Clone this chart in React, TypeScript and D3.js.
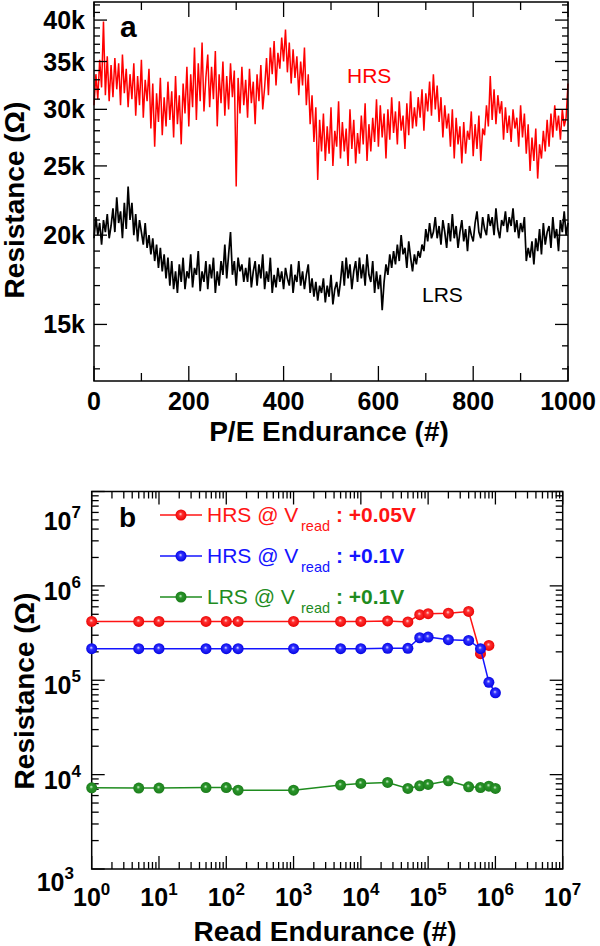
import React from "react";
import * as d3 from "d3";

// ---------- Panel (a): P/E endurance ----------
const peCycles = d3.range(0, 1001, 4);
// HRS resistance in kOhm
const hrsKOhm = [
  30.4, 33.6, 31.0, 35.2, 32.2, 39.8, 31.4, 35.6, 30.8, 34.6,
  31.2, 35.4, 32.0, 34.8, 30.4, 35.8, 31.6, 34.2, 30.2, 33.6,
  31.0, 34.8, 29.4, 33.4, 30.4, 35.2, 29.2, 33.0, 30.8, 34.2,
  28.2, 32.6, 26.6, 31.6, 28.8, 33.2, 27.6, 31.2, 28.4, 32.8,
  29.0, 31.8, 27.4, 33.4, 28.6, 31.4, 26.8, 32.6, 29.6, 34.4,
  28.4, 33.6, 30.2, 36.6, 29.0, 34.8, 30.8, 37.2, 29.8, 33.2,
  35.8, 30.2, 34.4, 31.0, 36.2, 28.4, 33.6, 30.6, 35.0, 29.4,
  33.4, 30.0, 34.8, 31.2, 34.0, 23.4, 33.2, 29.6, 34.4, 30.4,
  33.0, 29.2, 34.2, 30.6, 32.8, 28.6, 33.6, 30.8, 34.6, 30.0,
  32.2, 35.4, 31.4, 36.6, 33.6, 37.4, 32.4, 36.0, 34.2, 37.8,
  35.0, 38.8, 33.8, 37.2, 32.6, 36.4, 33.2, 35.6, 31.4, 35.0,
  32.4, 36.6, 30.4, 33.6, 28.6, 31.4, 27.0, 30.2, 23.9, 29.0,
  26.2, 29.6, 25.4, 28.4, 26.0, 30.2, 25.0, 28.0, 26.6, 30.8,
  25.6, 28.8, 26.2, 28.2, 25.0, 30.0, 26.4, 29.0, 25.2, 27.8,
  26.0, 29.4, 26.8, 30.6, 25.4, 28.6, 26.2, 29.2, 27.0, 31.0,
  26.6, 30.4, 27.4, 29.6, 25.6, 30.0, 27.2, 31.2, 27.8, 29.8,
  26.8, 30.8, 28.0, 29.4, 26.4, 30.6, 27.6, 31.8, 28.2, 30.2,
  28.4, 31.2, 29.2, 32.0, 28.0, 31.6, 29.8, 32.8, 29.4, 33.6,
  30.0, 32.4, 28.8, 31.2, 27.4, 30.4, 28.2, 29.6, 26.6, 30.0,
  25.6, 29.2, 26.8, 28.4, 25.2, 28.8, 26.0, 28.0, 27.2, 29.8,
  25.8, 28.6, 26.4, 29.4, 25.4, 28.2, 27.6, 30.4, 28.4, 33.4,
  29.0, 32.0, 28.6, 31.4, 29.6, 30.8, 27.2, 30.2, 27.8, 29.4,
  27.0, 30.0, 28.2, 29.2, 26.6, 30.4, 27.4, 29.6, 26.0, 28.6,
  24.6, 27.4, 25.4, 28.2, 24.0, 26.8, 25.6, 28.0, 26.2, 29.0,
  26.6, 29.6, 27.4, 30.4, 28.0, 29.4, 27.2, 30.0, 28.4, 29.2,
  32.6,
];
// LRS resistance in kOhm
const lrsKOhm = [
  19.8, 21.2, 20.0, 20.8, 19.4, 21.0, 20.2, 21.4, 19.8, 20.6,
  21.8, 20.2, 22.6, 20.8, 21.6, 19.8, 22.2, 20.4, 23.4, 21.0,
  22.2, 20.0, 21.4, 19.6, 21.0, 20.2, 19.4, 20.8, 19.2, 20.0,
  18.8, 19.8, 18.4, 19.4, 18.0, 19.2, 17.8, 18.8, 17.4, 18.6,
  17.0, 18.4, 16.8, 17.8, 16.6, 18.2, 17.2, 18.6, 16.8, 17.8,
  17.4, 18.8, 16.9, 18.0, 17.6, 19.0, 16.7, 17.8, 17.2, 18.4,
  16.8, 18.2, 17.4, 18.6, 16.6, 17.8, 17.0, 18.4, 17.6, 19.4,
  17.4, 18.8, 20.2, 17.6, 18.4, 17.0, 18.6, 17.8, 18.2, 17.2,
  18.0, 17.2, 18.6, 16.9, 17.8, 18.4, 17.0, 18.2, 17.4, 18.8,
  16.8, 17.8, 17.2, 18.6, 16.6, 17.6, 16.9, 18.0, 17.2, 17.8,
  16.8, 18.0, 17.4, 17.0, 18.2, 16.6, 17.6, 17.2, 18.4, 17.0,
  17.8, 16.8, 17.6, 18.2, 16.6, 17.4, 16.4, 17.2, 16.2, 17.0,
  16.6, 17.4, 16.1, 17.0, 16.4, 17.6, 16.0, 16.8, 17.2, 16.4,
  17.2, 18.4, 17.0, 18.6, 17.4, 18.2, 16.8, 17.8, 18.4, 17.2,
  18.6, 17.4, 18.2, 17.0, 18.8, 17.6, 17.2, 18.4, 16.6, 17.8,
  16.8, 17.6, 15.7, 17.2, 18.2, 17.6, 18.8, 18.0, 19.0, 18.2,
  19.4, 18.4, 20.0, 18.8, 19.2, 18.0, 19.6, 18.6, 17.8, 18.8,
  18.2, 19.0, 18.6, 19.4, 19.0, 20.4, 19.6, 20.8, 19.8, 20.2,
  21.2, 19.8, 20.6, 19.4, 21.0, 20.2, 19.2, 20.8, 19.6, 21.4,
  19.8, 20.6, 19.2, 20.2, 21.0, 19.6, 20.4, 19.0, 20.6, 20.0,
  19.6, 20.8, 21.6, 20.2, 19.8, 21.2, 20.4, 20.0, 21.4, 20.6,
  21.2, 20.0, 21.8, 20.4, 19.8, 21.0, 20.6, 21.6, 20.2, 21.2,
  20.6, 21.8, 20.2, 21.0, 19.8, 20.8, 20.2, 21.2, 18.4, 19.2,
  18.6, 19.6, 18.2, 19.8, 19.0, 20.4, 18.8, 20.8, 19.4, 20.2,
  20.6, 19.2, 21.2, 19.8, 20.4, 19.0, 21.0, 20.2, 21.6, 20.0,
  20.8,
];
const peTickValues = [0, 100, 200, 300, 400, 500, 600, 700, 800, 900, 1000];
const peLabelValues = [0, 200, 400, 600, 800, 1000];
const peLabels = ["0", "200", "400", "600", "800", "1000"];
const resTickValues = [15000, 20000, 25000, 30000, 35000, 40000];
const resTickLabels = ["15k", "20k", "25k", "30k", "35k", "40k"];

// ---------- Panel (b): read endurance ----------
const readCycles = [1, 5, 10, 50, 100, 150, 1e3, 5e3, 1e4, 2.5e4, 5e4, 7.5e4, 1e5, 2e5, 4e5, 6e5, 8e5, 1e6];
const hrsRead005 = [4.2e5, 4.2e5, 4.2e5, 4.2e5, 4.2e5, 4.2e5, 4.2e5, 4.2e5, 4.2e5, 4.25e5, 4.15e5, 4.95e5, 5.07e5, 5.14e5, 5.36e5, 1.91e5, 2.34e5];
const hrsRead01 = [2.16e5, 2.16e5, 2.16e5, 2.16e5, 2.16e5, 2.16e5, 2.16e5, 2.16e5, 2.16e5, 2.18e5, 2.18e5, 2.82e5, 2.87e5, 2.69e5, 2.64e5, 2.16e5, 9.5e4, 7.35e4];
const lrsRead01 = [7.24e3, 7.2e3, 7.2e3, 7.3e3, 7.3e3, 6.85e3, 6.85e3, 7.75e3, 8.07e3, 8.26e3, 7.14e3, 7.62e3, 7.87e3, 8.59e3, 7.43e3, 7.3e3, 7.55e3, 7.14e3];
const xExponents = [0, 1, 2, 3, 4, 5, 6, 7];
const yExponents = [3, 4, 5, 6, 7];
const minorFactors = [2, 3, 4, 5, 6, 7, 8, 9];
const legendItems = [
  { name: "HRS @ V", value: ": +0.05V", color: "#ff1414", grad: "gR" },
  { name: "HRS @ V", value: ": +0.1V", color: "#1414ff", grad: "gB" },
  { name: "LRS @ V", value: ": +0.1V", color: "#1f8c1f", grad: "gG" },
];

const FONT = "Arial, 'Liberation Sans', Helvetica, sans-serif";

export default function App() {
  const A = { l: 94, r: 568, t: 2, b: 381 };
  const B = { l: 91.7, r: 562.7, t: 491.5, b: 869 };
  const xA = d3.scaleLinear().domain([0, 1000]).range([A.l, A.r]);
  const yA = d3.scaleLog().domain([12500, 42400]).range([A.b, A.t]);
  const xB = d3.scaleLog().domain([1, 1e7]).range([B.l, B.r]);
  const yB = d3.scaleLog().domain([1e3, 1e7]).range([B.b, B.t]);

  const lineA = (vals: number[]) =>
    d3.line<number>().x((_, i) => xA(peCycles[i])).y((v) => yA(v * 1000))(vals) || "";
  const lineB = (vals: number[]) =>
    d3.line<number>().x((_, i) => xB(readCycles[i])).y((v) => yB(v))(vals) || "";

  const yMinorA = d3.range(13000, 42001, 1000);
  const xMinorB: number[] = [];
  for (let e = 0; e < 7; e++) minorFactors.forEach((m) => xMinorB.push(m * Math.pow(10, e)));
  const yMinorB: number[] = [];
  for (let e = 3; e < 7; e++) minorFactors.forEach((m) => yMinorB.push(m * Math.pow(10, e)));

  const tk = { stroke: "#000", strokeWidth: 1.3 };
  const series = [
    { vals: hrsRead005, color: "#ff1414", grad: "gR" },
    { vals: hrsRead01, color: "#1414ff", grad: "gB" },
    { vals: lrsRead01, color: "#1f8c1f", grad: "gG" },
  ];

  return (
    <svg width={600} height={946} style={{ position: "absolute", left: 0, top: 0, background: "#fff" }} fontFamily={FONT}>
      <defs>
        <radialGradient id="gR" cx="0.5" cy="0.5" r="0.55" fx="0.45" fy="0.4">
          <stop offset="0" stopColor="#ffd8d8" />
          <stop offset="0.3" stopColor="#ff3030" />
          <stop offset="1" stopColor="#e80000" />
        </radialGradient>
        <radialGradient id="gB" cx="0.5" cy="0.5" r="0.55" fx="0.45" fy="0.4">
          <stop offset="0" stopColor="#d8d8ff" />
          <stop offset="0.3" stopColor="#3030ff" />
          <stop offset="1" stopColor="#0000e0" />
        </radialGradient>
        <radialGradient id="gG" cx="0.5" cy="0.5" r="0.55" fx="0.45" fy="0.4">
          <stop offset="0" stopColor="#d0f0d0" />
          <stop offset="0.3" stopColor="#2a962a" />
          <stop offset="1" stopColor="#1a7a1a" />
        </radialGradient>
      </defs>
      <rect width={600} height={946} fill="#fff" />

      {/* ===== Panel a ===== */}
      <path d={lineA(hrsKOhm)} fill="none" stroke="#ff0000" strokeWidth={1.5} />
      <path d={lineA(lrsKOhm)} fill="none" stroke="#000" strokeWidth={1.7} />

      {peTickValues.map((v) => {
        const len = v % 200 === 0 ? 15 : 8;
        return (
          <g key={"pex" + v}>
            <line x1={xA(v)} x2={xA(v)} y1={A.b} y2={A.b - len} {...tk} />
            <line x1={xA(v)} x2={xA(v)} y1={A.t} y2={A.t + len} {...tk} />
          </g>
        );
      })}
      {yMinorA.map((v) => {
        const len = v % 5000 === 0 ? 13 : 6;
        return (
          <g key={"pey" + v}>
            <line x1={A.l} x2={A.l + len} y1={yA(v)} y2={yA(v)} {...tk} />
            <line x1={A.r} x2={A.r - len} y1={yA(v)} y2={yA(v)} {...tk} />
          </g>
        );
      })}
      <rect x={A.l} y={A.t} width={A.r - A.l} height={A.b - A.t} fill="none" stroke="#000" strokeWidth={1.5} />
      {peLabelValues.map((v, i) => (
        <text key={"pel" + v} x={xA(v)} y={410} textAnchor="middle" fontSize={25} fontWeight="bold">
          {peLabels[i]}
        </text>
      ))}
      {resTickValues.map((v, i) => (
        <text key={"rl" + v} x={85} y={yA(v) + 9} textAnchor="end" fontSize={25} fontWeight="bold">
          {resTickLabels[i]}
        </text>
      ))}
      <text x={329} y={441} textAnchor="middle" fontSize={28} fontWeight="bold">P/E Endurance (#)</text>
      <text transform="translate(24,200) rotate(-90)" textAnchor="middle" fontSize={28} fontWeight="bold">Resistance (Ω)</text>
      <text x={120} y={37} fontSize={30} fontWeight="bold">a</text>
      <text x={347} y={83} fontSize={21} fill="#ff0000">HRS</text>
      <text x={422} y={302} fontSize={21} fill="#000">LRS</text>

      {/* ===== Panel b ===== */}
      {xExponents.map((e) => {
        const x = xB(Math.pow(10, e));
        return (
          <g key={"bx" + e}>
            <line x1={x} x2={x} y1={B.b} y2={B.b - 13} {...tk} />
            <line x1={x} x2={x} y1={B.t} y2={B.t + 13} {...tk} />
          </g>
        );
      })}
      {xMinorB.map((v) => (
        <g key={"bxm" + v}>
          <line x1={xB(v)} x2={xB(v)} y1={B.b} y2={B.b - 7} {...tk} />
          <line x1={xB(v)} x2={xB(v)} y1={B.t} y2={B.t + 7} {...tk} />
        </g>
      ))}
      {yExponents.map((e) => {
        const y = yB(Math.pow(10, e));
        return (
          <g key={"by" + e}>
            <line x1={B.l} x2={B.l + 13} y1={y} y2={y} {...tk} />
            <line x1={B.r} x2={B.r - 13} y1={y} y2={y} {...tk} />
          </g>
        );
      })}
      {yMinorB.map((v) => (
        <g key={"bym" + v}>
          <line x1={B.l} x2={B.l + 7} y1={yB(v)} y2={yB(v)} {...tk} />
          <line x1={B.r} x2={B.r - 7} y1={yB(v)} y2={yB(v)} {...tk} />
        </g>
      ))}
      <rect x={B.l} y={B.t} width={B.r - B.l} height={B.b - B.t} fill="none" stroke="#000" strokeWidth={1.5} />

      {series.map((s, si) => (
        <g key={"s" + si}>
          <path d={lineB(s.vals)} fill="none" stroke={s.color} strokeWidth={1.5} />
          {s.vals.map((v, i) => (
            <circle key={i} cx={xB(readCycles[i])} cy={yB(v)} r={5.5} fill={`url(#${s.grad})`} />
          ))}
        </g>
      ))}

      {xExponents.map((e) => (
        <text key={"bxl" + e} x={xB(Math.pow(10, e))} y={906} textAnchor="middle" fontSize={25} fontWeight="bold">
          10<tspan fontSize={17} dy={-11}>{e}</tspan>
        </text>
      ))}
      {yExponents.map((e) => {
        const y = yB(Math.pow(10, e));
        const off = e === 7 ? 38 : e === 3 ? 22 : 14;
        const xr = e === 3 ? 74 : 81;
        return (
          <text key={"byl" + e} x={xr} y={y + off} textAnchor="end" fontSize={25} fontWeight="bold">
            10<tspan fontSize={17} dy={-12}>{e}</tspan>
          </text>
        );
      })}
      <text x={325} y={941} textAnchor="middle" fontSize={28} fontWeight="bold">Read Endurance (#)</text>
      <text transform="translate(34,691) rotate(-90)" textAnchor="middle" fontSize={28} fontWeight="bold">Resistance (Ω)</text>
      <text x={119} y={527} fontSize={28} fontWeight="bold">b</text>

      {legendItems.map((it, i) => {
        const base = 522 + i * 41;
        const cy = base - 7;
        return (
          <g key={"lg" + i} fill={it.color}>
            <line x1={160} x2={202} y1={cy} y2={cy} stroke={it.color} strokeWidth={1.5} />
            <circle cx={181} cy={cy} r={5.5} fill={`url(#${it.grad})`} />
            <text x={207} y={base} fontSize={21}>{it.name}</text>
            <text x={301} y={base + 9} fontSize={14.5}>read</text>
            <text x={336} y={base} fontSize={21} fontWeight="bold">{it.value}</text>
          </g>
        );
      })}
    </svg>
  );
}
